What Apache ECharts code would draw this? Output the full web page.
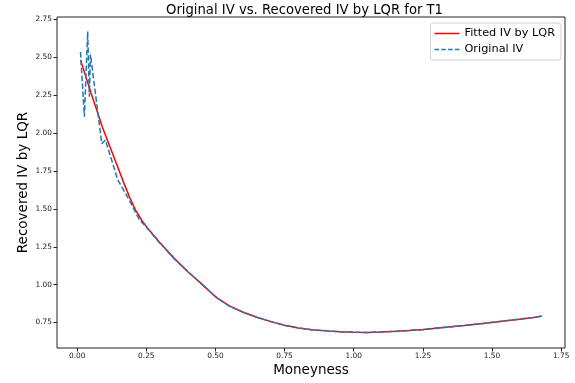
<!DOCTYPE html>
<html>
<head>
<meta charset="utf-8">
<script src="https://cdn.jsdelivr.net/npm/echarts@6/dist/echarts.min.js"></script>
<style>
  html, body { margin: 0; padding: 0; background: #fff; }
  #chart { width: 575px; height: 383px; }
</style>
</head>
<body>
<div id="chart"></div>
<script>
// Fitted implied volatility from the LQR model
const fittedMoneyness = [0.012, 0.03, 0.05, 0.07, 0.09, 0.11, 0.13, 0.15, 0.17, 0.19, 0.21, 0.235, 0.26, 0.3, 0.35, 0.4, 0.45, 0.5, 0.55, 0.6, 0.65, 0.7, 0.75, 0.8, 0.85, 0.9, 0.95, 1.0, 1.05, 1.1, 1.15, 1.2, 1.25, 1.3, 1.35, 1.4, 1.45, 1.5, 1.55, 1.6, 1.65, 1.68];
const fittedIV = [2.483, 2.38, 2.265, 2.155, 2.045, 1.95, 1.855, 1.76, 1.665, 1.575, 1.495, 1.42, 1.36, 1.275, 1.175, 1.085, 1.005, 0.92, 0.86, 0.818, 0.785, 0.756, 0.732, 0.714, 0.702, 0.695, 0.69, 0.686, 0.685, 0.688, 0.692, 0.697, 0.704, 0.713, 0.722, 0.731, 0.741, 0.751, 0.762, 0.772, 0.784, 0.793];

// Original (market) implied volatility
const originalMoneyness = [0.012, 0.026, 0.038, 0.044, 0.048, 0.089, 0.102, 0.147, 0.188, 0.224, 0.26, 0.3, 0.314, 0.35, 0.4, 0.45, 0.5, 0.55, 0.6, 0.65, 0.7, 0.75, 0.8, 0.85, 0.9, 0.95, 1.0, 1.05, 1.1, 1.15, 1.2, 1.25, 1.3, 1.35, 1.4, 1.45, 1.5, 1.55, 1.6, 1.65, 1.68];
const originalIV = [2.535, 2.108, 2.67, 2.24, 2.52, 1.93, 1.955, 1.69, 1.56, 1.43, 1.36, 1.27, 1.246, 1.172, 1.088, 1.003, 0.922, 0.858, 0.819, 0.784, 0.757, 0.731, 0.715, 0.701, 0.696, 0.689, 0.687, 0.684, 0.689, 0.691, 0.698, 0.703, 0.714, 0.721, 0.732, 0.740, 0.752, 0.761, 0.773, 0.783, 0.792];

// Tick positions
const xTicks = [0, 0.25, 0.5, 0.75, 1.0, 1.25, 1.5, 1.75];
const yTicks = [0.75, 1.0, 1.25, 1.5, 1.75, 2.0, 2.25, 2.5, 2.75];

const font = 'DejaVu Sans';
const pair = (xs, ys) => xs.map((x, i) => [x, ys[i]]);

// Legend glyphs: a solid stroke and a dashed stroke
const solidIcon = 'path://M0,0H25V1.5H0Z';
const dashedIcon = 'path://M0,0h4.6v1.5h-4.6z M6.8,0h4.6v1.5h-4.6z M13.6,0h4.6v1.5h-4.6z M20.4,0h4.6v1.5h-4.6z';

const chart = echarts.init(document.getElementById('chart'), null, { renderer: 'canvas' });
chart.setOption({
  animation: false,
  backgroundColor: '#fff',
  title: {
    text: 'Original IV vs. Recovered IV by LQR for T1',
    left: 166,
    top: 4,
    padding: 0,
    textStyle: { fontFamily: font, fontSize: 13.2, fontWeight: 'normal', color: '#000' }
  },
  legend: {
    orient: 'vertical',
    right: 14,
    top: 23,
    padding: [5, 6, 5, 4],
    itemGap: 5,
    itemWidth: 25,
    itemHeight: 1.5,
    backgroundColor: 'rgba(255,255,255,0.8)',
    borderColor: '#d0d0d0',
    borderWidth: 1,
    borderRadius: 3,
    textStyle: { fontFamily: font, fontSize: 11.3, color: '#000' },
    data: [
      { name: 'Fitted IV by LQR', icon: solidIcon, itemStyle: { color: '#ff0000' } },
      { name: 'Original IV', icon: dashedIcon, itemStyle: { color: '#1f77b4' } }
    ]
  },
  grid: {
    left: 57, right: 10, top: 17, bottom: 35,
    show: true, borderColor: '#222', borderWidth: 1
  },
  xAxis: {
    type: 'value',
    min: -0.073, max: 1.764,
    name: 'Moneyness',
    nameLocation: 'middle',
    nameGap: 15,
    nameMoveOverlap: false,
    nameTextStyle: { fontFamily: font, fontSize: 13.5, color: '#000' },
    axisLine: { show: false, onZero: false },
    axisTick: { show: true, customValues: xTicks, length: 3.5, lineStyle: { color: '#222' } },
    axisLabel: {
      customValues: xTicks, fontFamily: font, fontSize: 7.4, color: '#222', margin: 5,
      formatter: v => v.toFixed(2)
    },
    splitLine: { show: false }
  },
  yAxis: {
    type: 'value',
    min: 0.582, max: 2.766,
    name: 'Recovered IV by LQR',
    nameLocation: 'middle',
    nameGap: 27,
    nameMoveOverlap: false,
    nameTextStyle: { fontFamily: font, fontSize: 13.5, color: '#000' },
    axisLine: { show: false, onZero: false },
    axisTick: { show: true, customValues: yTicks, length: 3.5, lineStyle: { color: '#222' } },
    axisLabel: {
      customValues: yTicks, fontFamily: font, fontSize: 7.4, color: '#222', margin: 5,
      formatter: v => v.toFixed(2)
    },
    splitLine: { show: false }
  },
  series: [
    {
      name: 'Fitted IV by LQR',
      type: 'line',
      data: pair(fittedMoneyness, fittedIV),
      showSymbol: false,
      symbol: 'none',
      color: '#ff0000',
      lineStyle: { color: '#ff0000', width: 1.5 },
      z: 2
    },
    {
      name: 'Original IV',
      type: 'line',
      data: pair(originalMoneyness, originalIV),
      showSymbol: false,
      symbol: 'none',
      color: '#1f77b4',
      lineStyle: { color: '#1f77b4', width: 1.5, type: [5.5, 2.4] },
      z: 3
    }
  ]
});
</script>
</body>
</html>
